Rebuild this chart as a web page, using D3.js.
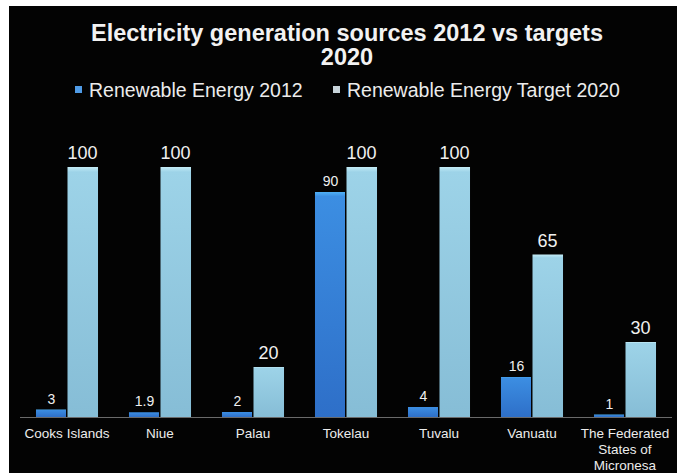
<!DOCTYPE html>
<html><head><meta charset="utf-8">
<script src="https://cdn.jsdelivr.net/npm/d3@7"></script>
<style>html,body{margin:0;padding:0;background:#fff;}svg{display:block;}</style>
</head><body>
<script>
const categories = ["Cooks Islands","Niue","Palau","Tokelau","Tuvalu","Vanuatu","The Federated States of Micronesa"];
const seriesNames = ["Renewable Energy 2012","Renewable Energy Target 2020"];
const re2012 = [3,1.9,2,90,4,16,1];
const re2012Labels = ["3","1.9","2","90","4","16","1"];
const target2020 = [100,100,20,100,100,65,30];
const categoryLines = [["Cooks Islands"],["Niue"],["Palau"],["Tokelau"],["Tuvalu"],["Vanuatu"],["The Federated","States of","Micronesa"]];

const W=677,H=473;
const svg=d3.select("body").append("svg").attr("width",W).attr("height",H);
const defs=svg.append("defs");
const g1=defs.append("linearGradient").attr("id","gBlue").attr("x1",0).attr("y1",0).attr("x2",0).attr("y2",1);
g1.append("stop").attr("offset",0).attr("stop-color","#4fb0f5");
g1.append("stop").attr("offset",0.02).attr("stop-color","#3c8ee2");
g1.append("stop").attr("offset",1).attr("stop-color","#2e6fc8");
const g2=defs.append("linearGradient").attr("id","gLight").attr("x1",0).attr("y1",0).attr("x2",0).attr("y2",1);
g2.append("stop").attr("offset",0).attr("stop-color","#c4ecf6");
g2.append("stop").attr("offset",0.02).attr("stop-color","#9dd3e8");
g2.append("stop").attr("offset",1).attr("stop-color","#86bdd6");

svg.append("rect").attr("x",9).attr("y",6).attr("width",W-9).attr("height",H-6).attr("fill","#030303");

const x0=d3.scaleBand().domain(categories).range([20.5,671.5]).paddingInner(0.333).paddingOuter(0.1665);
const x1=d3.scaleBand().domain(seriesNames).range([0,x0.bandwidth()]);
const y=d3.scaleLinear().domain([0,100]).range([417,167]);

const font="'Liberation Sans', Arial, sans-serif";
// title
svg.append("text").attr("x",347).attr("y",41).attr("text-anchor","middle").attr("fill","#f2f2f2")
  .attr("font-family",font).attr("font-weight","bold").attr("font-size",23.5).text("Electricity generation sources 2012 vs targets");
svg.append("text").attr("x",347).attr("y",65).attr("text-anchor","middle").attr("fill","#f2f2f2")
  .attr("font-family",font).attr("font-weight","bold").attr("font-size",23.5).text("2020");

// legend
const legX=[75,333];
seriesNames.forEach((s,i)=>{
  svg.append("rect").attr("x",legX[i]).attr("y",86).attr("width",7).attr("height",7).attr("fill",i===0?"#4f9be6":"#c8d4da");
  svg.append("text").attr("x",legX[i]+14).attr("y",97).attr("fill","#ececec").attr("font-family",font)
    .attr("font-size",19.5).text(s);
});

// axis line
svg.append("line").attr("x1",20).attr("x2",672).attr("y1",417.5).attr("y2",417.5).attr("stroke","#6a6a6a").attr("stroke-width",1);

const grp=svg.append("g").selectAll("g").data(categories).join("g").attr("transform",d=>`translate(${x0(d)},0)`);
grp.append("rect").attr("x",x1(seriesNames[0])).attr("width",x1.bandwidth()-1)
  .attr("y",(d,i)=>y(re2012[i])).attr("height",(d,i)=>417-y(re2012[i])).attr("fill","url(#gBlue)");
grp.append("rect").attr("x",x1(seriesNames[1])+0.5).attr("width",x1.bandwidth()-0.5)
  .attr("y",(d,i)=>y(target2020[i])).attr("height",(d,i)=>417-y(target2020[i])).attr("fill","url(#gLight)");
grp.append("text").attr("x",x1(seriesNames[0])+x1.bandwidth()/2).attr("y",(d,i)=>y(re2012[i])-6)
  .attr("text-anchor","middle").attr("fill","#f0f0f0").attr("font-family",font).attr("font-size",14)
  .text((d,i)=>re2012Labels[i]);
grp.append("text").attr("x",x1(seriesNames[1])+x1.bandwidth()/2).attr("y",(d,i)=>y(target2020[i])-8)
  .attr("text-anchor","middle").attr("fill","#f0f0f0").attr("font-family",font).attr("font-size",18)
  .text((d,i)=>target2020[i]);

// category labels
grp.each(function(d,i){
  const t=d3.select(this).append("text").attr("text-anchor","middle").attr("fill","#ececec")
    .attr("font-family",font).attr("font-size",13.5);
  categoryLines[i].forEach((ln,j)=>{
    t.append("tspan").attr("x",x0.bandwidth()/2).attr("y",438+j*16).text(ln);
  });
});
</script>
</body></html>
